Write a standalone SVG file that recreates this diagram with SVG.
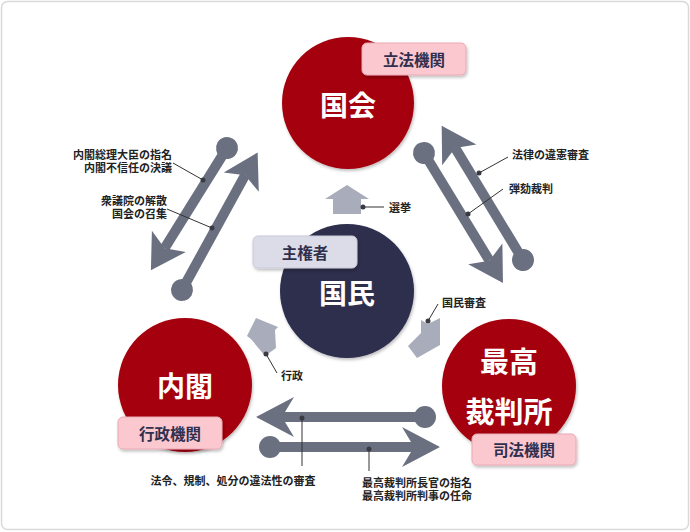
<svg xmlns="http://www.w3.org/2000/svg" width="690" height="532" viewBox="0 0 690 532">
<defs>
<filter id="sh" x="-20%" y="-20%" width="140%" height="140%">
<feDropShadow dx="1" dy="2" stdDeviation="1.5" flood-color="#000" flood-opacity="0.25"/>
</filter>
<style>
.frame{fill:#fff;stroke:#d9d9d9;stroke-width:1.5}
.red{fill:#a4000f}
.navy{fill:#2d2e4e}
.big{font-family:"Noto Sans CJK JP","Noto Sans",sans-serif;font-weight:700;fill:#fff;text-anchor:middle;dominant-baseline:central}
.lbl{font-family:"Noto Sans CJK JP","Noto Sans",sans-serif;font-weight:700;font-size:15.5px;fill:#30304e;text-anchor:middle;dominant-baseline:central}
.pink{fill:#fbc8cf;stroke:#e9aab4;stroke-width:1}
.lav{fill:#dcdce8;stroke:#c9c9d8;stroke-width:1}
.arr circle,.arr polygon{fill:#6b7081}
.arr line{stroke:#6b7081;stroke-width:10}
.blk{fill:#a9acba}
.ld{stroke:#333;stroke-width:1;fill:none}
.dot{fill:#3a3a44}
.sm{font-family:"Noto Sans CJK JP","Noto Sans",sans-serif;font-weight:700;font-size:11px;fill:#222;dominant-baseline:central}
</style>
</defs>
<rect class="frame" x="1.5" y="1.5" width="687" height="528" rx="6"/>

<g id="kokkai">
<circle class="red" cx="348" cy="103" r="66" filter="url(#sh)"/>
<text class="big" x="348" y="104" font-size="28">国会</text>
<rect class="pink" x="362" y="43" width="104" height="32" rx="5" filter="url(#sh)"/>
<text class="lbl" x="414" y="59">立法機関</text>
</g>

<g id="kokumin">
<circle class="navy" cx="347" cy="291" r="67" filter="url(#sh)"/>
<text class="big" x="347" y="292" font-size="28">国民</text>
<rect class="lav" x="253" y="236" width="104" height="32" rx="5" filter="url(#sh)"/>
<text class="lbl" x="305" y="252">主権者</text>
</g>

<g id="naikaku">
<circle class="red" cx="185" cy="385" r="67" filter="url(#sh)"/>
<text class="big" x="185" y="385" font-size="28">内閣</text>
<rect class="pink" x="118" y="417" width="104" height="32" rx="5" filter="url(#sh)"/>
<text class="lbl" x="170" y="433">行政機関</text>
</g>

<g id="saikousai">
<circle class="red" cx="509" cy="386" r="67" filter="url(#sh)"/>
<text class="big" x="509" y="360" font-size="29">最高</text>
<text class="big" x="509" y="410" font-size="29">裁判所</text>
<rect class="pink" x="472" y="434" width="104" height="31" rx="5" filter="url(#sh)"/>
<text class="lbl" x="524" y="449">司法機関</text>
</g>

<g id="connectors">
<g class="arr" transform="translate(227,148) rotate(121.9)">
<circle r="11"/><line x1="0" y1="0" x2="118" y2="0"/><polygon points="144,0 110,-20 118,0 110,20"/>
</g>
<g class="arr" transform="translate(182,290) rotate(-61.2)">
<circle r="11"/><line x1="0" y1="0" x2="131" y2="0"/><polygon points="157,0 123,-20 131,0 123,20"/>
</g>
<g class="arr" transform="translate(424,153) rotate(58.7)">
<circle r="11"/><line x1="0" y1="0" x2="126" y2="0"/><polygon points="152,0 118,-20 126,0 118,20"/>
</g>
<g class="arr" transform="translate(523,260) rotate(-121.2)">
<circle r="11"/><line x1="0" y1="0" x2="131" y2="0"/><polygon points="157,0 123,-20 131,0 123,20"/>
</g>
<g class="arr" transform="translate(425,417) rotate(180)">
<circle r="11"/><line x1="0" y1="0" x2="143" y2="0"/><polygon points="169,0 131,-20 143,0 131,20"/>
</g>
<g class="arr" transform="translate(270,447)">
<circle r="11"/><line x1="0" y1="0" x2="144" y2="0"/><polygon points="170,0 132,-20 144,0 132,20"/>
</g>

<polygon class="blk" points="347,185 369,199 361,199 361,214 333,214 333,199 325,199"/>
<polygon class="blk" points="256,318 278,327 275,330 276,348 265,356 251,339 247,336"/>
<polygon class="blk" points="421,320 428,324 440,318 440,345 417,358 408,346 421,333"/>

<line class="ld" x1="173" y1="163" x2="203" y2="180"/><circle class="dot" cx="203" cy="180" r="2.5"/>
<line class="ld" x1="167" y1="209" x2="212" y2="228"/><circle class="dot" cx="212" cy="228" r="2.5"/>
<line class="ld" x1="508" y1="157" x2="479" y2="173"/><circle class="dot" cx="479" cy="173" r="2.5"/>
<line class="ld" x1="503" y1="189" x2="468" y2="214"/><circle class="dot" cx="468" cy="214" r="2.5"/>
<line class="ld" x1="363" y1="207" x2="384" y2="207"/><circle class="dot" cx="363" cy="207" r="2.5"/>
<line class="ld" x1="428" y1="321" x2="438" y2="304"/><circle class="dot" cx="428" cy="321" r="2.5"/>
<line class="ld" x1="266" y1="354" x2="277" y2="373"/><circle class="dot" cx="266" cy="354" r="2.5"/>
<line class="ld" x1="302" y1="418" x2="302" y2="466"/><circle class="dot" cx="302" cy="418" r="2.5"/>
<line class="ld" x1="369" y1="449" x2="369" y2="471"/><circle class="dot" cx="369" cy="449" r="2.5"/>
</g>

<g id="labels">
<text class="sm" text-anchor="end"><tspan x="172" y="154">内閣総理大臣の指名</tspan><tspan x="172" y="167">内閣不信任の決議</tspan></text>
<text class="sm" text-anchor="end"><tspan x="167" y="199.5">衆議院の解散</tspan><tspan x="167" y="212.5">国会の召集</tspan></text>
<text class="sm" x="512" y="154">法律の違憲審査</text>
<text class="sm" x="509" y="188">弾劾裁判</text>
<text class="sm" x="389" y="207">選挙</text>
<text class="sm" x="442" y="302">国民審査</text>
<text class="sm" x="281" y="375">行政</text>
<text class="sm" x="233" y="480" text-anchor="middle">法令、規制、処分の違法性の審査</text>
<text class="sm"><tspan x="362" y="481.5">最高裁判所長官の指名</tspan><tspan x="362" y="494.5">最高裁判所判事の任命</tspan></text>
</g>
</svg>
